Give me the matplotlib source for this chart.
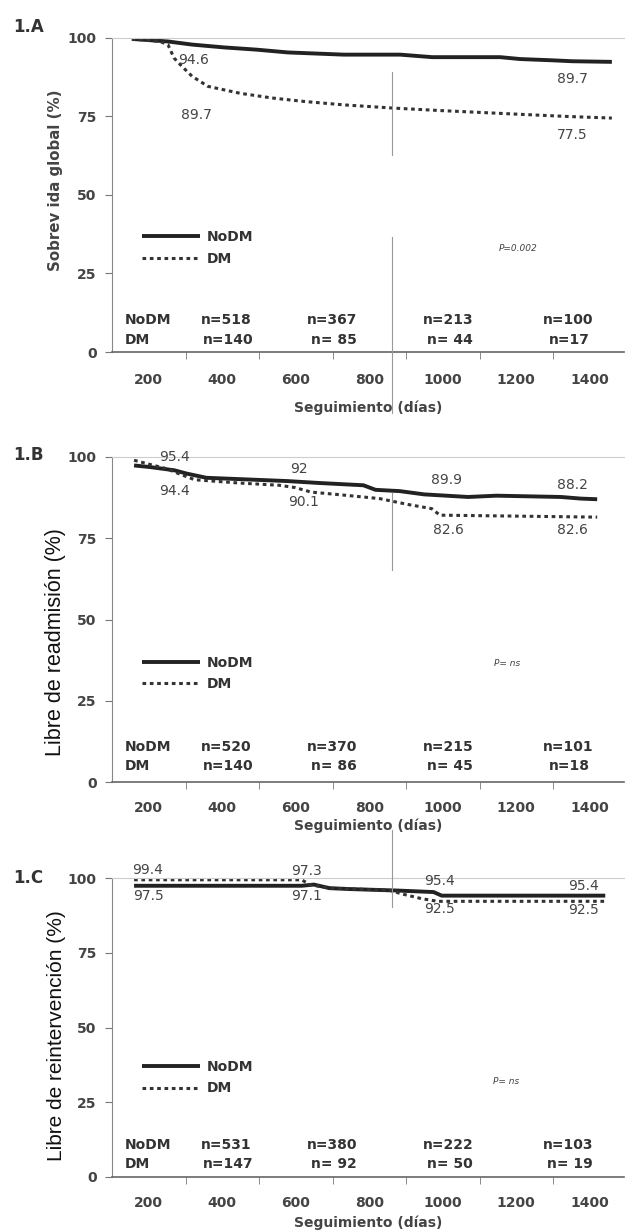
import numpy as np
import matplotlib
matplotlib.use("Agg")
import matplotlib.pyplot as plt
from matplotlib.lines import Line2D

plt.rcParams.update({"font.family": "DejaVu Sans", "font.size": 10})

# ---- datos ----
# 1.A supervivencia global
a_nodm_d = [154, 252, 318, 405, 492, 579, 731, 884, 971, 1156, 1210, 1297, 1352, 1460]
a_nodm_v = [99.7, 98.9, 97.9, 97.0, 96.3, 95.4, 94.7, 94.7, 93.9, 93.9, 93.3, 92.9, 92.6, 92.4]
a_dm_d = [154, 230, 252, 269, 290, 318, 361, 448, 535, 622, 731, 862, 992, 1210, 1341, 1460]
a_dm_v = [99.7, 98.9, 97.9, 93.6, 91.0, 87.8, 84.6, 82.4, 80.9, 79.8, 78.7, 77.7, 76.9, 75.7, 75.0, 74.5]
# 1.B libre de readmisión
b_nodm_d = [160, 204, 270, 303, 357, 489, 576, 664, 784, 817, 883, 949, 1069, 1146, 1321, 1376, 1420]
b_nodm_v = [97.4, 96.9, 95.9, 94.9, 93.6, 93.0, 92.6, 92.0, 91.3, 89.9, 89.5, 88.5, 87.7, 88.1, 87.7, 87.2, 87.0]
b_dm_d = [160, 248, 281, 325, 445, 555, 598, 642, 719, 828, 905, 970, 992, 1420]
b_dm_v = [99.0, 96.4, 94.9, 93.0, 92.0, 91.3, 90.6, 89.2, 88.4, 87.2, 85.4, 84.1, 82.1, 81.5]
# 1.C libre de reintervención
c_nodm_d = [160, 616, 649, 692, 747, 877, 975, 997, 1442]
c_nodm_v = [97.4, 97.4, 97.8, 96.6, 96.3, 95.8, 95.3, 94.1, 94.1]
c_dm_d = [160, 616, 638, 692, 855, 888, 942, 986, 1442]
c_dm_v = [99.4, 99.4, 97.8, 96.6, 95.9, 94.7, 93.1, 92.2, 92.2]

# etiquetas de valor (texto, día, valor)
a_labels = [("94.6", 323, 93.1), ("89.7", 329, 75.5), ("89.7", 1352, 87.0), ("77.5", 1352, 69.1)]
b_labels = [("95.4", 270, 100.0), ("94.4", 270, 89.5), ("92", 609, 96.4), ("90.1", 620, 86.2),
            ("89.9", 1009, 92.8), ("82.6", 1015, 77.4), ("88.2", 1354, 91.3), ("82.6", 1354, 77.4)]
c_labels = [("99.4", 198, 102.8), ("97.5", 198, 94.1), ("97.3", 629, 102.2), ("97.1", 629, 94.1),
            ("95.4", 991, 98.9), ("92.5", 991, 89.6), ("95.4", 1383, 97.2), ("92.5", 1383, 89.2)]

# pacientes en riesgo
n_days = [410, 700, 1015, 1340]
a_n_nodm = ["n=518", "n=367", "n=213", "n=100"]
a_n_dm = ["n=140", "n= 85", "n= 44", "n=17"]
b_n_nodm = ["n=520", "n=370", "n=215", "n=101"]
b_n_dm = ["n=140", "n= 86", "n= 45", "n=18"]
c_n_nodm = ["n=531", "n=380", "n=222", "n=103"]
c_n_dm = ["n=147", "n= 92", "n= 50", "n= 19"]

pvals = ["P=0.002", "P= ns", "P= ns"]
ylabels = ["Sobrev ida global (%)", "Libre de readmisión (%)", "Libre de reintervención (%)"]
tags = ["1.A", "1.B", "1.C"]
xticks = [200, 400, 600, 800, 1000, 1200, 1400]

W, H = 626, 1230
fig = plt.figure(figsize=(W / 100, H / 100), dpi=100)

def px_axes(top, bottom):
    return fig.add_axes([112 / W, 1 - bottom / H, 512 / W, (bottom - top) / H])

panels = [
    dict(ax=px_axes(38, 352), nodm=(a_nodm_d, a_nodm_v), dm=(a_dm_d, a_dm_v), labels=a_labels,
         nn=a_n_nodm, nd=a_n_dm, nrow=(10.1, 3.9), leg_y=0.41, p=(1205, 33.0),
         ylab=dict(family="DejaVu Sans", size=10.8, weight="bold", color="#444"), xlab_y=-0.178,
         tag_y=27, tpad=15),
    dict(ax=px_axes(457, 782), nodm=(b_nodm_d, b_nodm_v), dm=(b_dm_d, b_dm_v), labels=b_labels,
         nn=b_n_nodm, nd=b_n_dm, nrow=(10.8, 4.9), leg_y=0.41, p=(1174, 36.4),
         ylab=dict(family="Liberation Sans", size=15.5, color="#111"), xlab_y=-0.135,
         tag_y=455, tpad=13.5),
    dict(ax=px_axes(878, 1177), nodm=(c_nodm_d, c_nodm_v), dm=(c_dm_d, c_dm_v), labels=c_labels,
         nn=c_n_nodm, nd=c_n_dm, nrow=(10.6, 4.5), leg_y=0.415, p=(1171, 31.8),
         ylab=dict(family="Liberation Sans", size=15, color="#111"), xlab_y=-0.154,
         tag_y=878, tpad=13.5),
]
ylab_centers = [180, 642, 1036]

for i, pn in enumerate(panels):
    ax = pn["ax"]
    l1, = ax.plot(*pn["nodm"], color="#222", lw=2.8, solid_capstyle="butt", label="NoDM")
    l2, = ax.plot(*pn["dm"], color="#333", lw=2.2, ls=(0, (1.2, 1.2)), label="DM")
    ax.set_xlim(100, 1493)
    ax.set_ylim(0, 100)
    ax.set_yticks([0, 25, 50, 75, 100])
    ax.set_xticks(xticks)
    ax.set_xticks([300, 500, 700, 900, 1100, 1300], minor=True)
    ax.tick_params(axis="x", which="major", length=0, pad=pn["tpad"])
    ax.tick_params(axis="x", which="minor", length=5, color="#777", direction="out")
    ax.tick_params(axis="y", length=5, color="#777", pad=6)
    for t in ax.get_xticklabels() + ax.get_yticklabels():
        t.set_fontweight("bold")
        t.set_color("#444")
        t.set_fontsize(10)
    ax.spines["right"].set_visible(False)
    ax.spines["top"].set_color("#ccc")
    ax.spines["top"].set_linewidth(0.8)
    ax.spines["left"].set_color("#888")
    ax.spines["bottom"].set_color("#666")
    ax.spines["bottom"].set_linewidth(1.2)

    for txt, d, v in pn["labels"]:
        ax.text(d, v, txt, ha="center", va="center", fontsize=10, color="#444", clip_on=False)

    ax.text(136, pn["nrow"][0], "NoDM", fontsize=10, fontweight="bold", color="#333", va="center")
    ax.text(136, pn["nrow"][1], "DM", fontsize=10, fontweight="bold", color="#333", va="center")
    for d, s1, s2 in zip(n_days, pn["nn"], pn["nd"]):
        ax.text(d, pn["nrow"][0], s1, ha="center", va="center", fontsize=10, fontweight="bold", color="#333")
        ax.text(d + 5, pn["nrow"][1], s2, ha="center", va="center", fontsize=10, fontweight="bold", color="#333")

    ax.text(*pn["p"], pvals[i], fontsize=6.5, style="italic", color="#444", ha="center", va="center")

    ax.legend(handles=[l1, l2], loc="upper left", bbox_to_anchor=(0.045, pn["leg_y"]),
              frameon=False, borderpad=0, handlelength=4.2, handletextpad=0.45,
              labelspacing=0.55, prop=dict(weight="bold", size=10))
    for t in ax.get_legend().get_texts():
        t.set_color("#333")

    ax.set_xlabel("Seguimiento (días)", fontsize=10, fontweight="bold", color="#444")
    ax.xaxis.set_label_coords(0.5, pn["xlab_y"])
    ax.xaxis.label.set_va("center")

    fig.text(56 / W, 1 - ylab_centers[i] / H, ylabels[i], rotation=90, ha="center", va="center",
             **pn["ylab"])
    fig.text(13 / W, 1 - pn["tag_y"] / H, tags[i], fontsize=12, fontweight="bold", color="#333",
             ha="left", va="center")

# línea vertical fina del escaneo
for y0, y1 in [(72, 155), (237, 413), (493, 570), (830, 907)]:
    fig.add_artist(Line2D([392 / W, 392 / W], [1 - y0 / H, 1 - y1 / H], color="#999", lw=0.8))

fig.savefig("out.png", dpi=100)
